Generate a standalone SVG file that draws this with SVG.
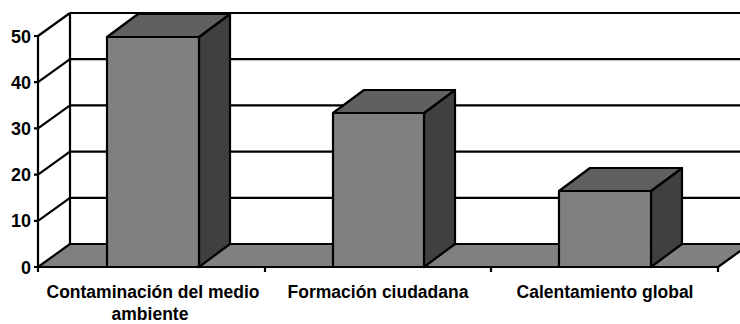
<svg xmlns="http://www.w3.org/2000/svg" width="740" height="324" viewBox="0 0 740 324">
<style>
.ln{stroke:#000;stroke-width:2.2;fill:none;stroke-linejoin:round}
.front{fill:#808080;stroke:#000;stroke-width:2.2;stroke-linejoin:round}
.top{fill:#606060;stroke:#000;stroke-width:2.2;stroke-linejoin:round}
.side{fill:#404040;stroke:#000;stroke-width:2.2;stroke-linejoin:round}
.floor{fill:#808080;stroke:#000;stroke-width:2.2;stroke-linejoin:round}
.lbl{font-family:"Liberation Sans",Arial,sans-serif;font-weight:bold;font-size:17.5px;fill:#000;text-anchor:middle}
.ax{font-family:"Liberation Sans",Arial,sans-serif;font-weight:bold;font-size:18px;fill:#000;text-anchor:end}
</style>
<rect width="740" height="324" fill="#fff"/>
<g id="walls">
  <path class="ln" d="M70 13H745M70 59.2H745M70 105.4H745M70 151.6H745M70 197.8H745M70 13V244"/>
  <path class="ln" d="M38 36L70 13M38 82.2L70 59.2M38 128.4L70 105.4M38 174.6L70 151.6M38 220.8L70 197.8"/>
  <polygon class="floor" points="38,267 70,244 750,244 718,267"/>
  <path class="ln" d="M38 36V267M34 36H38M34 82.2H38M34 128.4H38M34 174.6H38M34 220.8H38M34 267H38"/>
  <path class="ln" d="M38 267V272M265 267V272M491 267V272M718 267V272"/>
</g>
<g id="bar1">
  <polygon class="side" points="199,37 230,14 230,244 199,267"/>
  <polygon class="top" points="107,37 138,14 230,14 199,37"/>
  <rect class="front" x="107" y="37" width="92" height="230"/>
</g>
<g id="bar2">
  <polygon class="side" points="424,113 455,90 455,244 424,267"/>
  <polygon class="top" points="333,113 364,90 455,90 424,113"/>
  <rect class="front" x="333" y="113" width="91" height="154"/>
</g>
<g id="bar3">
  <polygon class="side" points="651,191 682,168 682,244 651,267"/>
  <polygon class="top" points="559,191 590,168 682,168 651,191"/>
  <rect class="front" x="559" y="191" width="92" height="76"/>
</g>
<g id="labels">
  <text class="ax" x="31" y="43">50</text>
  <text class="ax" x="31" y="89">40</text>
  <text class="ax" x="31" y="135">30</text>
  <text class="ax" x="31" y="181">20</text>
  <text class="ax" x="31" y="227">10</text>
  <text class="ax" x="31" y="274">0</text>
  <text class="lbl" x="153" y="298">Contaminación del medio</text>
  <text class="lbl" x="150" y="320">ambiente</text>
  <text class="lbl" x="378" y="298">Formación ciudadana</text>
  <text class="lbl" x="605" y="298">Calentamiento global</text>
</g>
</svg>
